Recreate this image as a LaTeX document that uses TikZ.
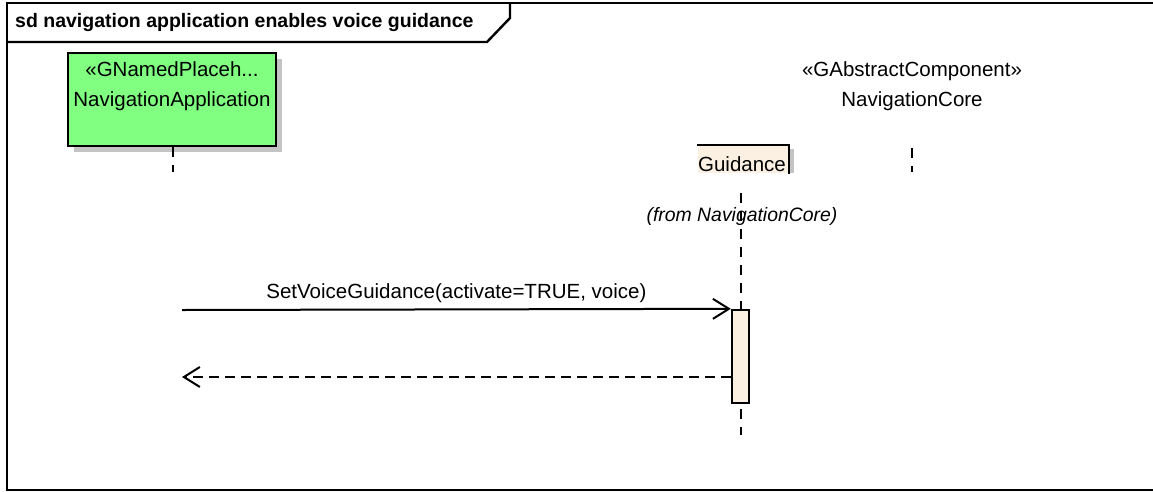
\documentclass[tikz,border=0pt]{standalone}
\usepackage{fontspec}
\setmainfont{Liberation Sans}
\usetikzlibrary{arrows.meta,shadows}
\definecolor{appgreen}{HTML}{80FF80}
\definecolor{partlinen}{HTML}{FBF0E2}
\definecolor{shadowgray}{HTML}{C4C4C4}

\begin{document}
\begin{tikzpicture}[x=1pt,y=-1pt,line width=2.4pt,
	txt/.style={font=\fontsize{20.5}{30}\selectfont,inner sep=0,align=center},
	lifeline/.style={line width=2pt,dash pattern=on 10pt off 8pt},
	msg/.style={line width=2pt,-{Straight Barb[length=16pt,width=20pt,line width=2pt]}},
	ret/.style={msg,dash pattern=on 10pt off 6pt}]
	\useasboundingbox (0,0) rectangle (1153,491);
	% frame
	\draw (1153,3) -- (7,3) -- (7,490) -- (1153,490);
	\draw (7,42) -- (487,42) -- (510,18) -- (510,3);
	\node[font=\bfseries\fontsize{19.5}{22}\selectfont,anchor=west,inner sep=0] (title) at (14,22) {sd navigation application enables voice guidance};
	% lifelines heads
	\node[draw,fill=appgreen,minimum width=208pt,minimum height=93pt,inner sep=0,
		drop shadow={shadow xshift=6pt,shadow yshift=-6pt,fill=shadowgray,opacity=1}] (app) at (172,99.5) {};
	\node[txt] (apptxt) at (172,86) {«GNamedPlaceh...\\NavigationApplication};
	\node[txt] (core) at (912,86) {«GAbstractComponent»\\NavigationCore};
	\fill[shadowgray] (788,149) rectangle (794,173);
	\node[fill=partlinen,minimum width=90pt,minimum height=27pt,inner sep=0] (guid) at (743,159.5) {};
	\draw (guid.north west) -- (guid.north east) -- (guid.south east);
	\node[txt] (guidtxt) at (742,164) {Guidance};
	\node[txt,font=\itshape\fontsize{19.4}{22}\selectfont] (from) at (742,216) {(from NavigationCore)};
	% lifelines
	\coordinate (append) at (173,172);
	\coordinate (coretop) at (912,148);
	\coordinate (coreend) at (912,172);
	\coordinate (guidtop) at (741,193);
	\coordinate (guidend) at (741,435);
	\draw[lifeline] (app.south -| append) -- (append);
	\draw[lifeline] (coretop) -- (coreend);
	\draw[lifeline] (guidtop) -- (guidend);
	% activation
	\node[draw,fill=partlinen,minimum width=17pt,minimum height=93pt,inner sep=0] (act) at (740.5,356.5) {};
	% messages
	\coordinate (src) at (182,310);
	\coordinate (back) at (182,377);
	\draw[msg] (src) -- (act.north west) node[midway,above=6pt,txt] (call) {SetVoiceGuidance(activate=TRUE, voice)};
	\draw[ret] (act.west |- back) -- (back);
\end{tikzpicture}
\end{document}
